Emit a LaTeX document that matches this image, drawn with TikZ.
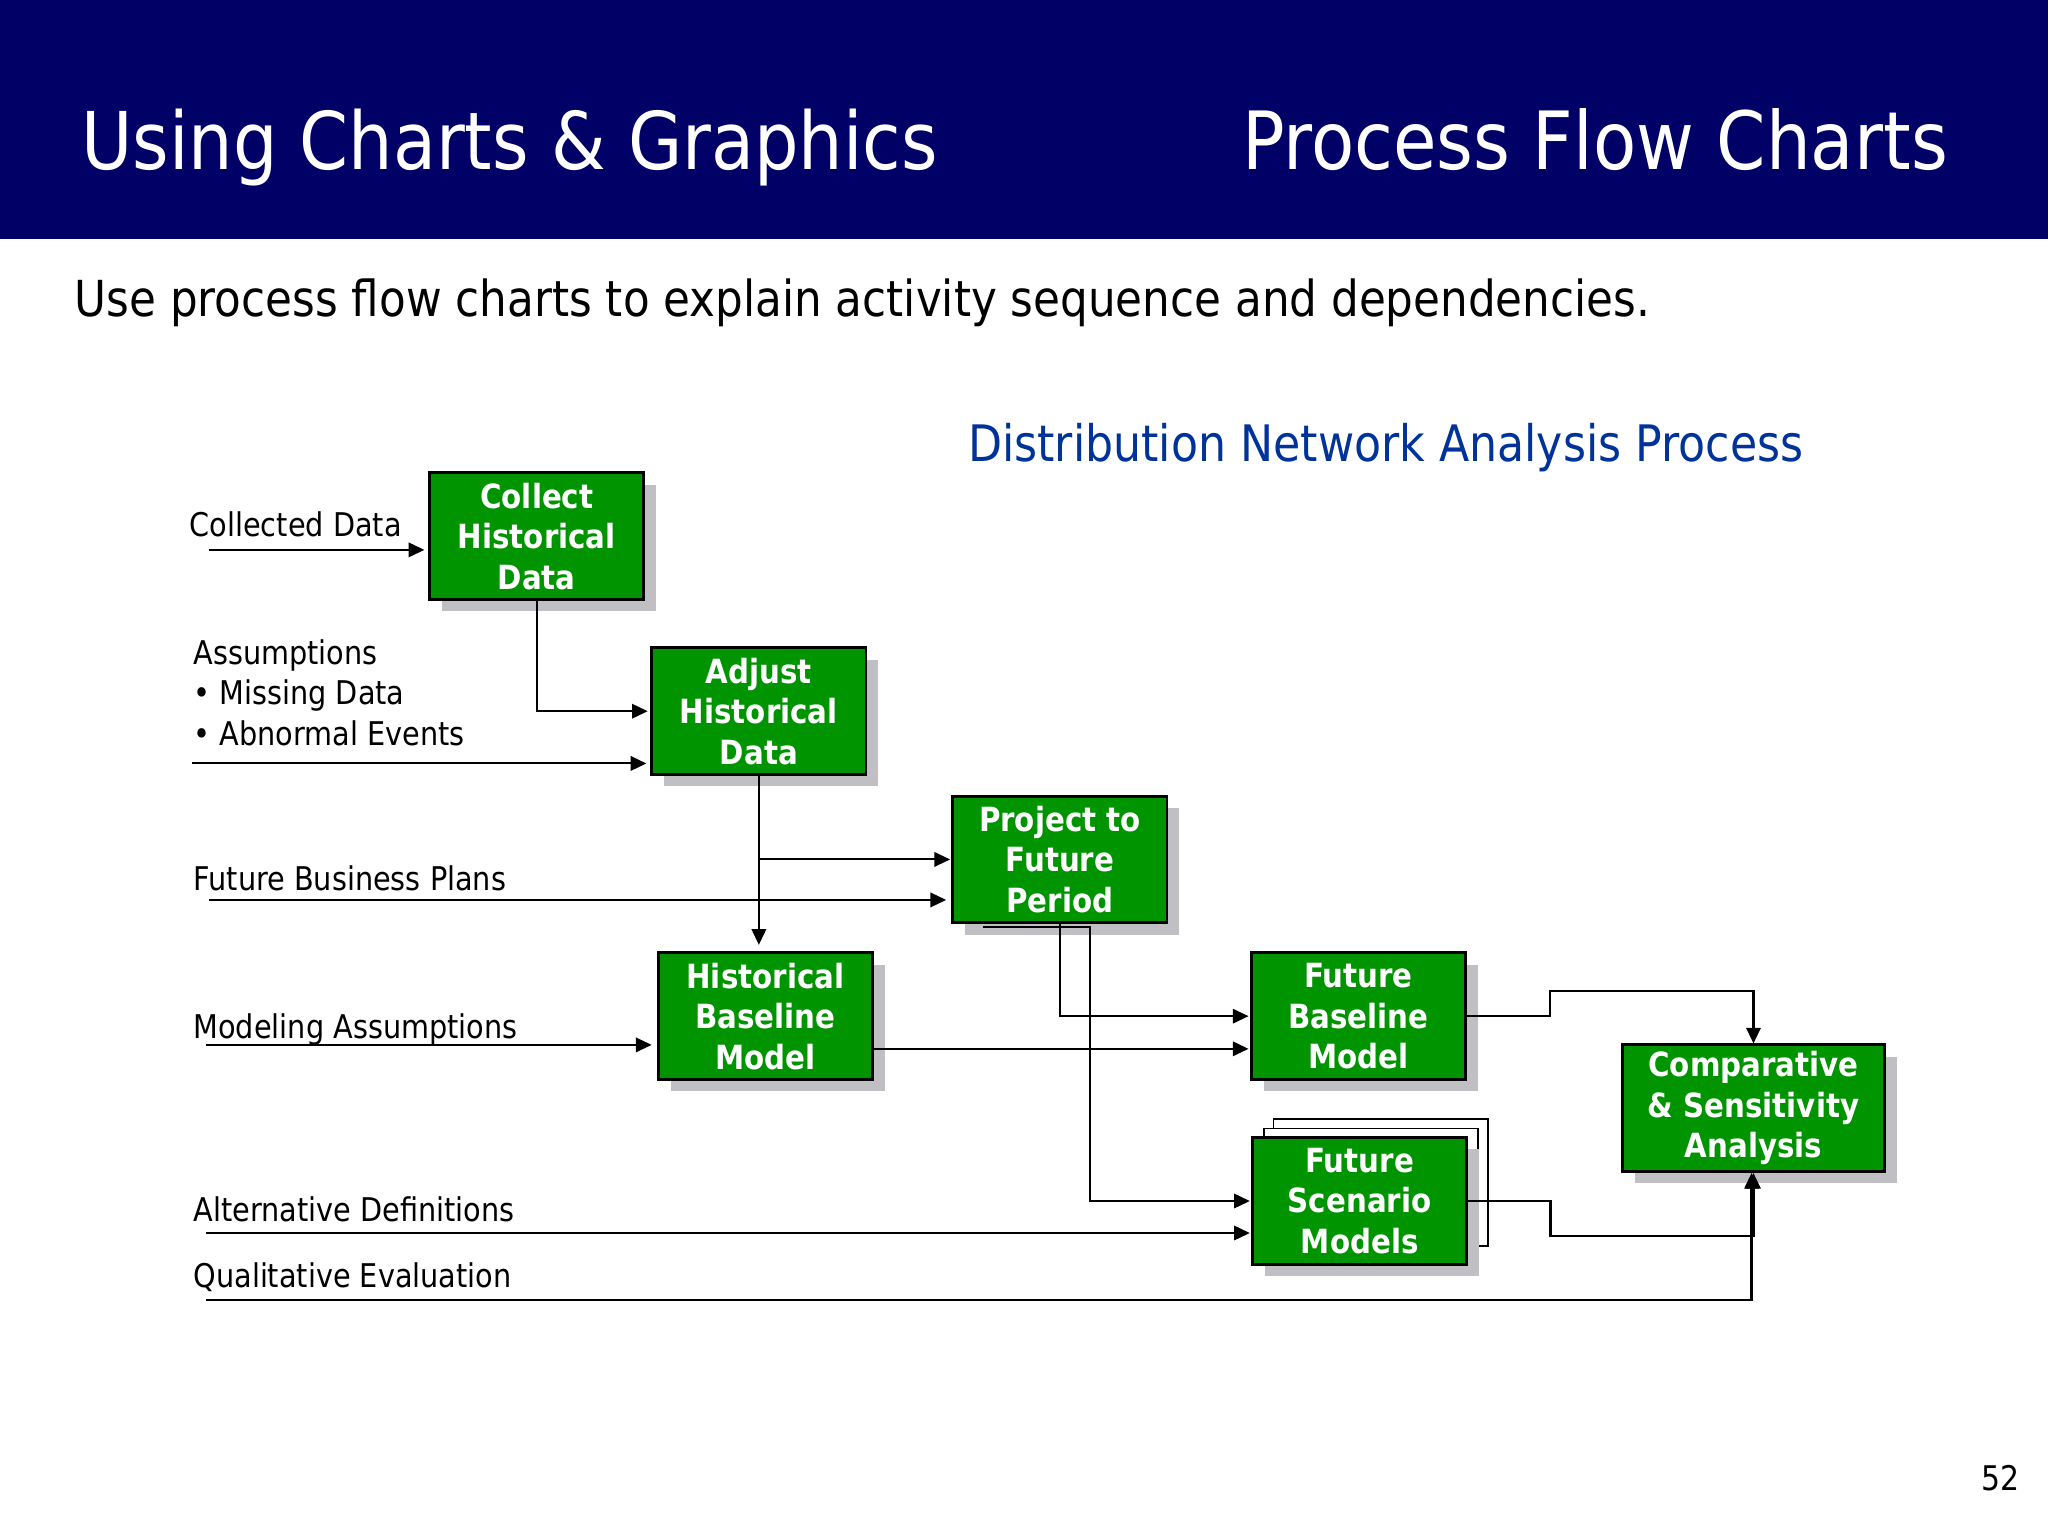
\documentclass[tikz,border=0pt]{standalone}
\usepackage{fontspec}
\setmainfont{DejaVu Sans}[FakeStretch=0.88]
\usetikzlibrary{calc,arrows.meta,shadows}
\definecolor{navy}{RGB}{0,0,102}
\definecolor{boxgreen}{RGB}{0,148,0}
\definecolor{headblue}{RGB}{0,51,153}
\definecolor{shade}{RGB}{192,192,196}
\def\lbl(#1)#2{\node[anchor=base west,inner sep=0pt,font=\fontsize{25}{31.3}\selectfont,align=left] at (#1) {#2};}

\begin{document}
\begin{tikzpicture}[x=1pt,y=-1pt,
	procbox/.style={draw=black,line width=2.2pt,fill=boxgreen,text=white,
		font=\bfseries\fontsize{25.5}{31}\selectfont,align=center,
		minimum width=164pt,minimum height=97pt,inner sep=0pt,
		drop shadow={shadow xshift=9.5pt,shadow yshift=-9pt,fill=shade,opacity=1}},
	backbox/.style={draw=black,line width=1.4pt,fill=white,minimum width=164pt,minimum height=97pt},
	flow/.style={line width=1.6pt,-{Triangle[length=12pt,width=11pt]}}]
				\useasboundingbox (0,0) rectangle (1568,1176);
				\fill[navy] (0,0) rectangle (1568,183);
				
				\node[anchor=base west,inner sep=0pt,text=white,font=\fontsize{61}{70}\selectfont] (title) at (62,130) {Using Charts \& Graphics};
				\node[anchor=base east,inner sep=0pt,text=white,font=\fontsize{61.5}{70}\selectfont] (topic) at (1491.5,130) {Process Flow Charts};
				\node[anchor=base west,inner sep=0pt,font=\fontsize{38}{44}\selectfont] (intro) at (57,242) {Use process flow charts to explain activity sequence and dependencies.};
				\node[anchor=base west,inner sep=0pt,text=headblue,font=\fontsize{38.5}{44}\selectfont] (charthead) at (741,353.5) {Distribution Network Analysis Process};
				
				% process boxes
				\node[procbox] (collect) at (411,410.5) {Collect\\Historical\\Data};
				\node[procbox] (adjust) at (581,544.5) {Adjust\\Historical\\Data};
				\node[procbox] (project) at (811.5,658) {Project to\\Future\\Period};
				\node[procbox] (histbase) at (586,778) {Historical\\Baseline\\Model};
				\node[procbox] (futbase) at (1040,778) {Future\\Baseline\\Model};
				\node[backbox] (scenb) at (1057,905.5) {};
				\node[backbox] (scena) at (1049.5,912.5) {};
				\node[procbox] (futscen) at (1041,919.5) {Future\\Scenario\\Models};
				\node[procbox,minimum width=201pt] (compare) at (1342.5,848.5) {Comparative\\\& Sensitivity\\Analysis};
				
				% inputs
				\lbl(145,411){Collected Data}
				\lbl(148,571){Assumptions\\• Missing Data\\• Abnormal Events}
				\lbl(148,681.5){Future Business Plans}
				\lbl(148,795){Modeling Assumptions}
				\lbl(148,935){Alternative Definitions}
				\lbl(148,986){Qualitative Evaluation}
				
				\coordinate (cdin) at (160,421);
				\coordinate (asin) at (147,584.5);
				\coordinate (fbin) at (160,689);
				\coordinate (main) at (158,800);
				\coordinate (adin) at (158,944);
				\coordinate (qein) at (158,995);
				
				\draw[flow,shorten >=3pt] (cdin) -- (cdin -| collect.west);
				\draw[flow,shorten >=2pt] (collect.south) |- (adjust.west);
				\draw[flow,shorten >=3pt] (asin) -- (asin -| adjust.west);
				\draw[flow,shorten >=5pt] (adjust.south) -- (adjust.south |- histbase.north);
				\coordinate (br) at (adjust.south |- project.west);
				\draw[flow,shorten >=1pt] (br) -- (project.west);
				\draw[flow,shorten >=4pt] (fbin) -- (fbin -| project.west);
				\draw[flow,shorten >=4pt] (main) -- (main -| histbase.west);
				
				% to the future models
				\draw[flow,shorten >=1pt] (project.south) |- (futbase.west);
				\coordinate (hbout) at ($(histbase.east)+(0,25)$);
				\draw[flow,shorten >=1pt] (hbout) -- (hbout -| futbase.west);
				\coordinate (pjtail) at ($(project.south west)+(24,2)$);
				\draw[flow,shorten >=1pt] (pjtail) -- ++(82,0) |- (futscen.west);
				\draw[flow,shorten >=1pt] (adin) -- (adin -| futscen.west);
				
				% to the comparison
				\draw[flow] (futbase.east) -- ++(63.5,0) |- ($(compare.north)+(0,-40)$) -- (compare.north);
				\draw[flow] (futscen.east) -- ++(63,0) |- ($(compare.south)+(0,48)$) -- (compare.south);
				\draw[flow] (qein) -| ([xshift=-1.5pt]compare.south);
				
				\node[anchor=base east,inner sep=0pt,font=\fontsize{26}{30}\selectfont] (pageno) at (1546,1141) {52};
			\end{tikzpicture}
\end{document}
